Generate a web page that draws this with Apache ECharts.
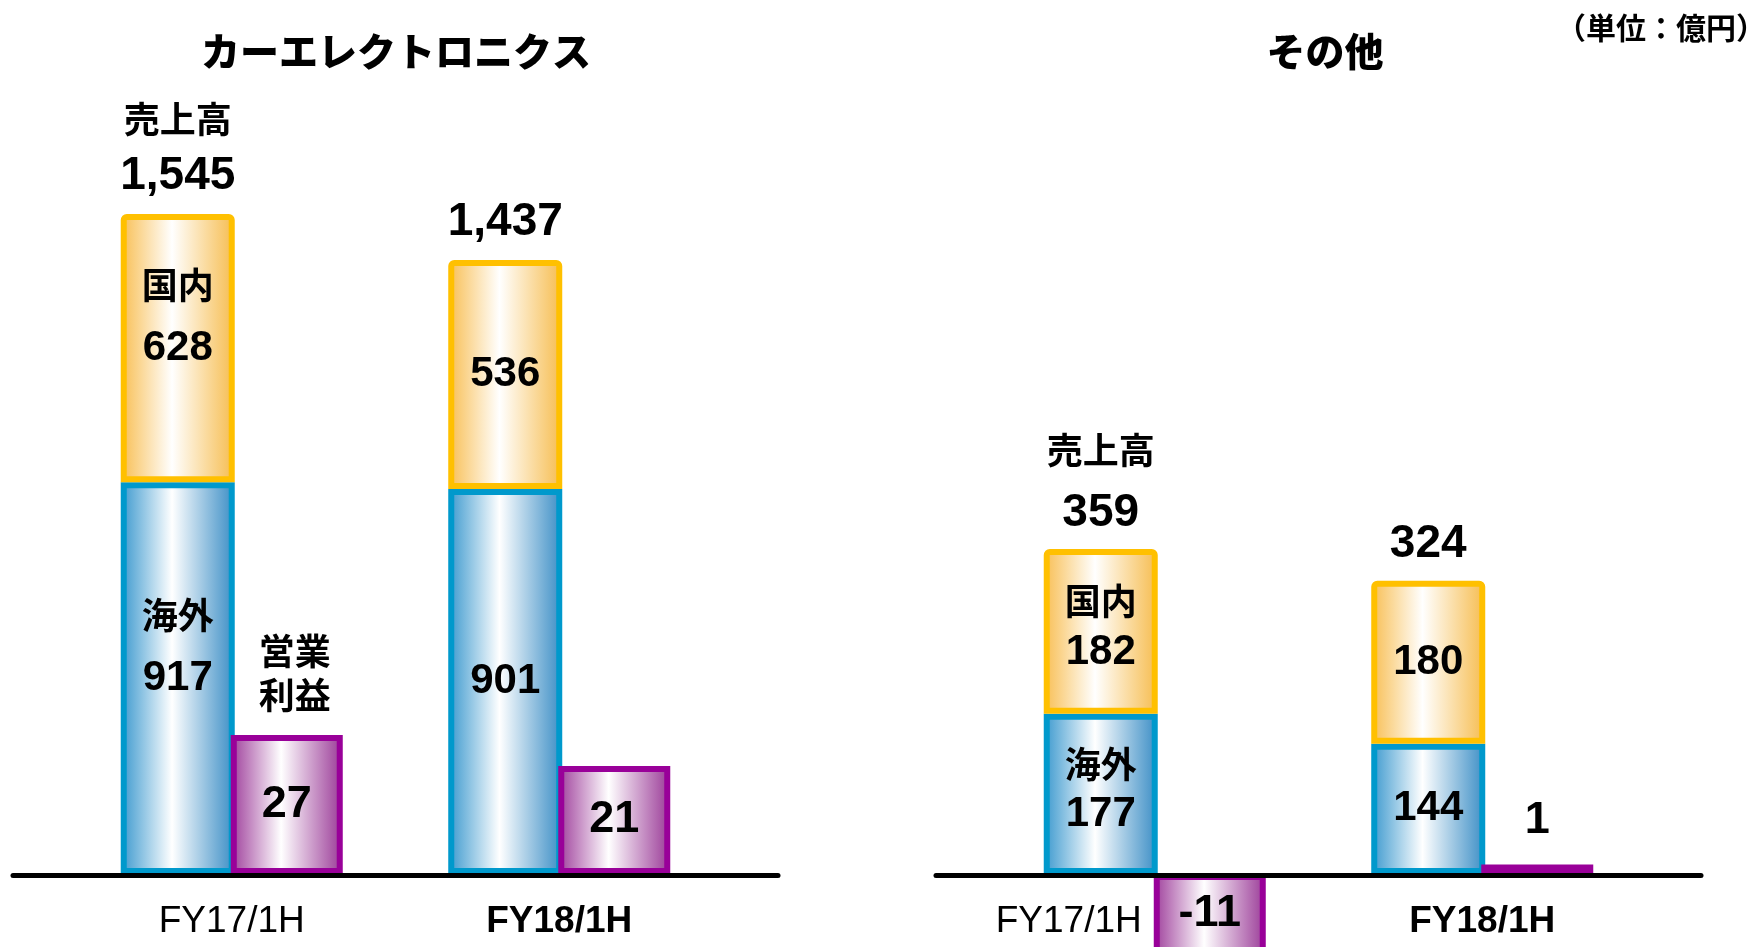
<!DOCTYPE html>
<html>
<head>
<meta charset="utf-8">
<title>カーエレクトロニクス / その他</title>
<script src="https://cdn.jsdelivr.net/npm/echarts@6/dist/echarts.min.js"></script>
<style>
  html, body { margin: 0; padding: 0; background: #fff; }
  #chart { width: 1751px; height: 947px; }
</style>
</head>
<body>
<div id="chart"></div>
<script>
  // 単位：億円
  var periods = ['FY17/1H', 'FY18/1H'];

  // カーエレクトロニクス
  var carOverseas = [917, 901];
  var carDomestic = [628, 536];
  var carSales = [1545, 1437];
  var carProfit = [27, 21];

  // その他
  var otherOverseas = [177, 144];
  var otherDomestic = [182, 180];
  var otherSales = [359, 324];
  var otherProfit = [-11, 1];

  var panelTitles = ['カーエレクトロニクス', 'その他'];
  var profitNames = ['営業\n利益', '営業\n損益'];

  var jpFont = '"Noto Sans CJK JP", sans-serif';
  var numFont = '"Liberation Sans", Arial, sans-serif';

  var zeroY = 874;      // 基準線の位置

  var panels = [
    { overseas: carOverseas, domestic: carDomestic, sales: carSales, profit: carProfit,
      gridLeft: 68, lineLeft: 13, salesPx: 0.4272, profitPx: 5.148,
      nameLH: 60, valLH: 66, innerOffset: -30, headLH: 64, totalDist: 13,
      profitStack: 'all', headOffsetX: 8, headDist: 18, titleX: 396, firstPad: 0 },
    { overseas: otherOverseas, domestic: otherDomestic, sales: otherSales, profit: otherProfit,
      gridLeft: 991, lineLeft: 936, salesPx: 0.9053, profitPx: 9.5,
      nameLH: 50, valLH: 52, innerOffset: -4, headLH: 76, totalDist: 11,
      profitStack: 'samesign', headOffsetX: 7, headDist: 21, titleX: 1325, firstPad: 172 }
  ];

  function gradient(edge, edge2) {
    return new echarts.graphic.LinearGradient(0, 0, 1, 0, [
      { offset: 0, color: edge },
      { offset: 0.45, color: '#ffffff' },
      { offset: 1, color: edge2 }
    ]);
  }

  function innerRich(p) {
    return {
      n: { fontFamily: jpFont, fontWeight: 'bold', fontSize: 36, lineHeight: p.nameLH, color: '#000' },
      v: { fontFamily: numFont, fontWeight: 'bold', fontSize: 42, lineHeight: p.valLH, color: '#000' }
    };
  }

  var grids = [], xAxes = [], yAxes = [], series = [];

  panels.forEach(function (p, k) {
    grids.push({ left: p.gridLeft, width: 655, top: 0, height: zeroY, outerBoundsMode: 'none' });
    xAxes.push({
      gridIndex: k, type: 'category', position: 'bottom',
      data: periods.map(function (name, i) {
        var ts = { fontWeight: i === 1 ? 'bold' : 'normal' };
        if (i === 0 && p.firstPad) ts.padding = [0, p.firstPad, 0, 0];
        return { value: name, textStyle: ts };
      }),
      axisLine: { show: false, onZero: false },
      axisTick: { show: false },
      axisLabel: { show: true, interval: 0, margin: 28, color: '#000', fontFamily: numFont, fontSize: 37, lineHeight: 40 }
    });
    yAxes.push({ gridIndex: k, type: 'value', show: false, min: 0, max: zeroY / p.salesPx });
    yAxes.push({ gridIndex: k, type: 'value', show: false, min: 0, max: zeroY / p.profitPx });

    series.push({
      name: '海外', type: 'bar', xAxisIndex: k, yAxisIndex: 2 * k, stack: 'sales' + k,
      barWidth: 114, barGap: '-3.5%',
      itemStyle: { color: gradient('#3A98CE', '#3A8DC5'), borderColor: '#0099CC', borderWidth: 6 },
      label: {
        show: true, position: 'inside', rich: innerRich(p),
        formatter: function (d) { return (d.dataIndex === 0 ? '{n|海外}\n' : '') + '{v|' + d.value + '}'; }
      },
      data: p.overseas.map(function (v, i) {
        return { value: v, label: { offset: [0, i === 0 ? p.innerOffset : 0] } };
      })
    });
    series.push({
      name: '国内', type: 'bar', xAxisIndex: k, yAxisIndex: 2 * k, stack: 'sales' + k,
      barWidth: 114, barGap: '-3.5%',
      itemStyle: { color: gradient('#F8BE52', '#F6BC4E'), borderColor: '#FFC000', borderWidth: 6, borderRadius: [3, 3, 0, 0] },
      label: {
        show: true, position: 'inside', rich: innerRich(p),
        formatter: function (d) { return (d.dataIndex === 0 ? '{n|国内}\n' : '') + '{v|' + d.value + '}'; }
      },
      data: p.domestic.map(function (v, i) {
        return { value: v, label: { offset: [0, i === 0 ? p.innerOffset : 0] } };
      })
    });
    // 売上高（合計）ラベル用
    series.push({
      name: '売上高', type: 'bar', xAxisIndex: k, yAxisIndex: 2 * k, stack: 'sales' + k,
      stackStrategy: 'all', barWidth: 114, barGap: '-3.5%', silent: true,
      itemStyle: { color: 'transparent' },
      label: {
        show: true, position: 'top', distance: p.totalDist,
        rich: {
          h: { fontFamily: jpFont, fontWeight: 'bold', fontSize: 36, lineHeight: p.headLH, color: '#000' },
          t: { fontFamily: numFont, fontWeight: 'bold', fontSize: 46, lineHeight: 50, color: '#000' }
        },
        formatter: function (d) {
          var total = p.sales[d.dataIndex].toLocaleString('en-US');
          return (d.dataIndex === 0 ? '{h|売上高}\n' : '') + '{t|' + total + '}';
        }
      },
      data: p.sales.map(function () { return 0; })
    });
    series.push({
      name: profitNames[k], type: 'bar', xAxisIndex: k, yAxisIndex: 2 * k + 1, stack: 'profit' + k,
      barWidth: 112, barGap: '-3.5%', clip: false,
      itemStyle: { color: gradient('#9E3E9B', '#9A3A97'), borderColor: '#990099', borderWidth: 6 },
      label: {
        show: true, color: '#000', fontFamily: numFont, fontWeight: 'bold', fontSize: 45,
        formatter: function (d) { return String(d.value); }
      },
      data: p.profit.map(function (v) {
        var small = Math.abs(v) * p.profitPx < 50;
        return { value: v, label: {
          position: small ? 'top' : 'inside', distance: 21,
          offset: [0, v < 0 ? -13 : 0]   // 画面下ではみ出す分の補正
        } };
      })
    });
    // 営業利益 見出し
    series.push({
      name: '見出し', type: 'bar', xAxisIndex: k, yAxisIndex: 2 * k + 1, stack: 'profit' + k,
      stackStrategy: p.profitStack, barWidth: 112, barGap: '-3.5%', silent: true,
      itemStyle: { color: 'transparent' },
      label: {
        show: true, position: 'top', distance: p.headDist, offset: [p.headOffsetX, 0],
        fontFamily: jpFont, fontWeight: 'bold', fontSize: 36, lineHeight: 44, color: '#000',
        formatter: function (d) { return d.dataIndex === 0 ? profitNames[k] : ''; }
      },
      data: p.profit.map(function () { return 0; })
    });
  });

  // 基準線
  panels.forEach(function (p, k) {
    grids.push({ left: p.lineLeft, width: 765, top: 0, height: zeroY + 1, outerBoundsMode: 'none' });
    xAxes.push({
      gridIndex: 2 + k, type: 'value', min: 0, max: 1, z: 5,
      axisLine: { show: true, onZero: false, lineStyle: { color: '#000', width: 5 } },
      axisTick: { show: false }, axisLabel: { show: false }, splitLine: { show: false }
    });
    yAxes.push({ gridIndex: 2 + k, type: 'value', show: false });
  });

  var titleStyle = { fontFamily: jpFont, fontWeight: 900, fontSize: 39, fill: '#000',
    align: 'center', verticalAlign: 'middle' };

  var chart = echarts.init(document.getElementById('chart'));
  chart.setOption({
    animation: false,
    backgroundColor: '#fff',
    grid: grids,
    xAxis: xAxes,
    yAxis: yAxes,
    series: series,
    graphic: [
      { type: 'text', x: panels[0].titleX, y: 51, style: Object.assign({ text: panelTitles[0] }, titleStyle) },
      { type: 'text', x: panels[1].titleX, y: 51, style: Object.assign({ text: panelTitles[1] }, titleStyle) },
      { type: 'text', x: 1766, y: 28, style: { text: '（単位：億円）', fontFamily: jpFont, fontWeight: 'bold',
        fontSize: 30, fill: '#000', align: 'right', verticalAlign: 'middle' } }
    ]
  });
</script>
</body>
</html>
